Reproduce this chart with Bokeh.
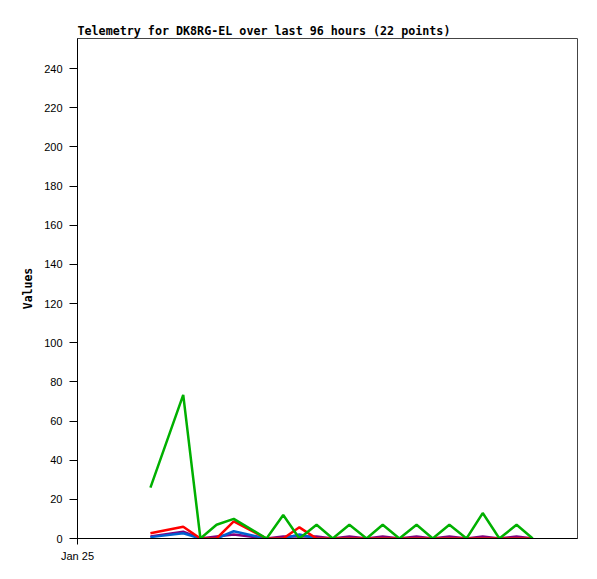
from bokeh.plotting import figure
from bokeh.models import Range1d, FixedTicker
from bokeh.embed import file_html
from bokeh.resources import INLINE

# data (hours since Jan 25 00:00)
hours = [14.0, 20.3, 23.6, 26.7, 30.0, 36.3, 39.5, 42.6, 45.9, 49.0, 52.2,
         55.5, 58.6, 61.8, 65.1, 68.2, 71.4, 74.7, 77.8, 81.0, 84.3, 87.4]
purple_vals = [1.0, 3.5, 0, 1, 2.0, 0, 1, 1, 1, 0, 1, 0, 1, 0, 1, 0, 1, 0, 1, 0, 1, 0]
blue_vals = [0.7, 2.7, 0, 0, 3.7, 0, 0, 2.0, 0, 0, 0, 0, 0, 0, 0, 0, 0, 0, 0, 0, 0, 0]
red_vals = [2.7, 6.0, 0, 0, 8.7, 0, 0, 5.7, 0, 0, 0, 0, 0, 0, 0, 0, 0, 0, 0, 0, 0, 0]
green_vals = [26, 73.4, 0, 7, 10, 0, 12, 0, 7, 0, 7, 0, 7, 0, 7, 0, 7, 0, 13, 0, 7, 0]
y_ticks = [0, 20, 40, 60, 80, 100, 120, 140, 160, 180, 200, 220, 240]
x_tick_labels = {0: "Jan 25"}

p = figure(frame_width=500, frame_height=500, output_backend="svg",
           toolbar_location=None, x_range=Range1d(0, 96), y_range=Range1d(0, 255.4),
           min_border_left=77, min_border_top=38, min_border_right=10, min_border_bottom=28)

p.title.text = "Telemetry for DK8RG-EL over last 96 hours (22 points)"
p.title.text_font = "DejaVu Sans Mono"
p.title.text_font_size = "11.7px"
p.title.text_font_style = "bold"
p.title.text_color = "black"
p.title.align = "left"
p.title.standoff = 2
p.title.offset = 0

p.xgrid.visible = False
p.ygrid.visible = False
p.outline_line_color = "#444444"
p.background_fill_color = "white"
p.border_fill_color = "white"

p.yaxis.ticker = FixedTicker(ticks=y_ticks)
p.yaxis.minor_tick_line_color = None
p.yaxis.major_tick_out = 8
p.yaxis.major_tick_in = 0
p.yaxis.major_label_text_font = "Liberation Sans"
p.yaxis.major_label_text_font_size = "11px"
p.yaxis.major_label_text_color = "black"
p.yaxis.major_label_standoff = 7
p.yaxis.axis_label = "Values"
p.yaxis.axis_label_text_font = "DejaVu Sans Mono"
p.yaxis.axis_label_text_font_size = "11.5px"
p.yaxis.axis_label_text_font_style = "bold"
p.yaxis.axis_label_text_color = "black"
p.yaxis.axis_label_standoff = 6
p.yaxis.axis_line_color = "black"

p.xaxis.ticker = FixedTicker(ticks=list(x_tick_labels.keys()))
p.xaxis.major_label_overrides = x_tick_labels
p.xaxis.minor_tick_line_color = None
p.xaxis.major_tick_out = 6
p.xaxis.major_tick_in = 0
p.xaxis.major_label_text_font = "Liberation Sans"
p.xaxis.major_label_text_font_size = "11px"
p.xaxis.major_label_text_color = "black"
p.xaxis.major_label_standoff = 5
p.xaxis.axis_line_color = "black"

p.line(hours, purple_vals, line_color="#800080", line_width=2.5)
p.line(hours, blue_vals, line_color="#0060d0", line_width=2.5)
p.line(hours, red_vals, line_color="#ff0000", line_width=2.5)
p.line(hours, green_vals, line_color="#00b000", line_width=2.5)

open("out.html", "w").write(file_html(p, INLINE))
